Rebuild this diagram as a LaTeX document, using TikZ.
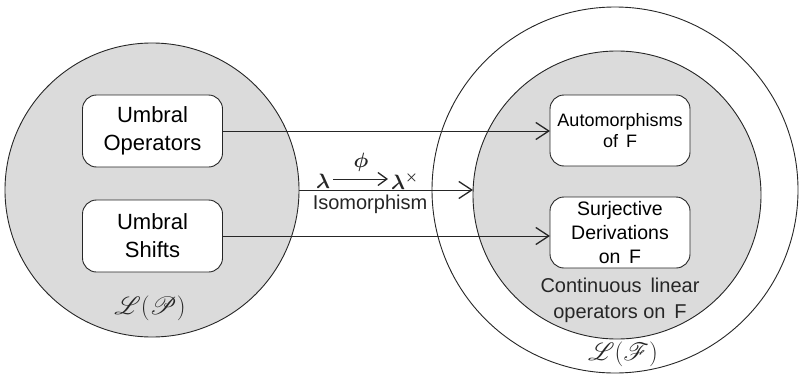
\documentclass[tikz,border=0pt]{standalone}
\usepackage{fontspec}
\setmainfont{Liberation Sans}
\usepackage{bm}
\usepackage{mathrsfs}
\usetikzlibrary{arrows.meta}
\definecolor{shade}{gray}{0.86}
\tikzset{
  region/.style={circle, draw=black!85, line width=0.9pt, inner sep=0pt, outer sep=0pt},
  opbox/.style={draw=black!85, line width=0.9pt, fill=white, rounded corners=14pt, align=center, inner sep=0pt, outer sep=0pt, minimum width=140pt, minimum height=72pt},
  conn/.style={line width=0.9pt, draw=black!85, -{Straight Barb[length=13pt,width=17pt,line width=1.3pt]}},
  lbl/.style={align=center, inner sep=0pt, text=black!85}
}
\begin{document}
\begin{tikzpicture}[x=1pt,y=-1pt]
\useasboundingbox (0,0) rectangle (800,380);
% regions
\node[region, fill=shade, minimum size=294pt] (lc) at (152,190) {};
\node[region, fill=white, minimum size=366pt] (oc) at (615,190) {};
\node[region, fill=shade, minimum size=288pt] (ic) at (617,195) {};
% boxes
\node[opbox, font=\fontsize{22}{28}\selectfont] (uo) at (152.5,131) {Umbral\\Operators};
\node[opbox, font=\fontsize{22}{28}\selectfont] (us) at (152.5,236) {Umbral\\Shifts};
\node[opbox, minimum height=71pt, font=\fontsize{18}{21}\selectfont] (au) at (620,130.5) {Automorphisms\\of\, F};
\node[opbox, minimum height=71pt, font=\fontsize{19.5}{24}\selectfont] (sd) at (620,232.5) {Surjective\\Derivations\\on\, F};
% labels
\node[lbl, font=\fontsize{20}{26}\selectfont] (cl) at (620,300) {Continuous\, linear\\operators on\, F};
\node[lbl, font=\fontsize{30}{32}\selectfont] (lp) at (150,308) {$\mathscr{L}\big(\mathscr{P}\big)$};
\node[lbl, font=\fontsize{30}{32}\selectfont] (lf) at (623,354) {$\mathscr{L}\big(\mathscr{F}\big)$};
% connectors
\draw[conn] (uo.east) -- (uo.east -| au.west);
\draw[conn] (us.east) -- (us.east -| sd.west);
\draw[conn] (lc.east) -- (lc.east -| ic.west);
% isomorphism label
\node[lbl, font=\fontsize{20}{24}\selectfont] (lam1) at (323,181) {$\bm\lambda$};
\node[lbl, font=\fontsize{20}{24}\selectfont, anchor=west] (lam2) at (391,181) {$\bm\lambda^{\bm\times}$};
\node[lbl, font=\fontsize{20}{24}\selectfont] (phi) at (361,162) {$\bm\phi$};
\draw[line width=0.9pt, draw=black!85, shorten >=3pt, -{Straight Barb[length=9pt,width=13pt,line width=1.3pt]}] (lam1.east) ++(3,-2) coordinate (a0) -- (a0 -| lam2.west);
\node[lbl, font=\fontsize{20}{24}\selectfont] (iso) at (370,204) {Isomorphism};
\end{tikzpicture}
\end{document}
